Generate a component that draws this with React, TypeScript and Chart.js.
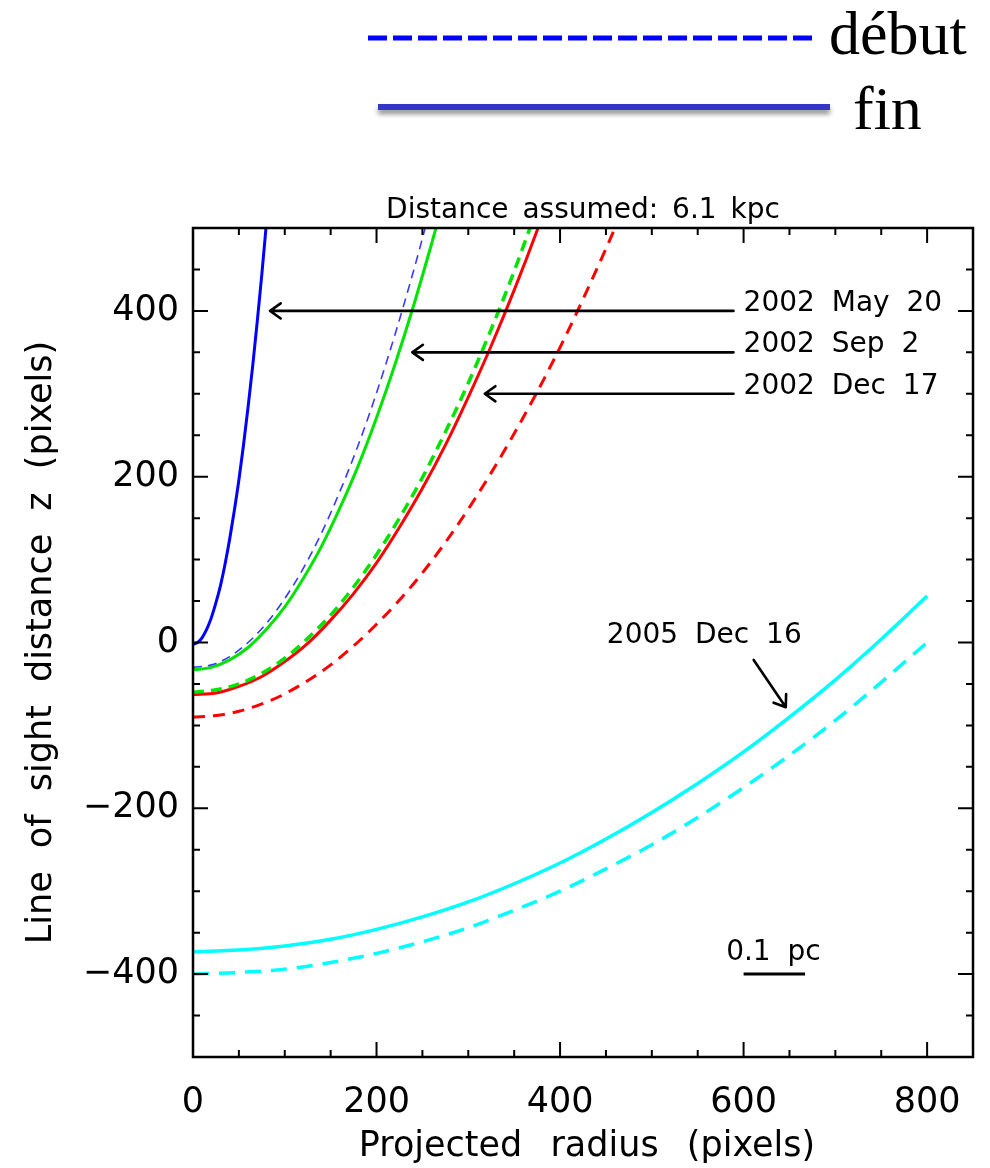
import React, { useEffect, useRef } from 'react';
import { Chart, registerables } from 'chart.js';

Chart.register(...registerables);

// ---- axes ----
const X_MIN = 0;
const X_MAX = 850;
const Y_MIN = -500;
const Y_MAX = 500;
const xTickValues = [0, 200, 400, 600, 800];
const yTickValues = [-400, -200, 0, 200, 400];
const MINOR_STEP = 50;

const plotTitle = 'Distance assumed: 6.1 kpc';
const xTitle = 'Projected radius (pixels)';
const yTitle = 'Line of sight distance z (pixels)';

// ---- 2002 May 20 ----
const rMayFin = [0, 5, 10, 15, 20, 25, 30, 35, 40, 45, 50, 55, 60, 65, 70, 75, 80];
const zMayFin = [-2, 0, 6, 16, 30, 48, 69, 95, 125, 159, 196, 238, 284, 333, 387, 444, 506];
const rMayDebut = [0, 20, 40, 60, 80, 100, 120, 140, 160, 180, 200, 220, 240, 255];
const zMayDebut = [-30, -27, -17, 0, 23, 53, 89, 132, 182, 238, 301, 371, 447, 508];

// ---- 2002 Sep 2 ----
const rSepFin = [0, 20, 40, 60, 80, 100, 120, 140, 160, 180, 200, 220, 240, 260, 270];
const zSepFin = [-33, -30, -21, -6, 16, 43, 77, 116, 162, 213, 271, 335, 405, 481, 521];
const rSepDebut = [0, 25, 50, 75, 100, 125, 150, 175, 200, 225, 250, 275, 300, 325, 350, 375];
const zSepDebut = [-60, -57, -50, -37, -19, 5, 33, 67, 106, 150, 199, 254, 313, 378, 448, 524];

// ---- 2002 Dec 17 ----
const rDecFin = [0, 25, 50, 75, 100, 125, 150, 175, 200, 225, 250, 275, 300, 325, 350, 375, 385];
const zDecFin = [-63, -61, -53, -41, -23, -1, 27, 59, 96, 139, 186, 238, 296, 358, 425, 497, 528];
const rDecDebut = [0, 25, 50, 75, 100, 150, 200, 250, 300, 350, 400, 450, 470];
const zDecDebut = [-90, -88, -83, -74, -62, -27, 22, 84, 161, 252, 356, 475, 526];

// ---- 2005 Dec 16 ----
const r2005Fin = [0, 50, 100, 150, 200, 250, 300, 350, 400, 450, 500, 550, 600, 650, 700, 750, 800];
const z2005Fin = [-373, -371, -366, -358, -346, -331, -313, -291, -266, -237, -205, -170, -132, -90, -45, 4, 56];
const r2005Debut = [0, 50, 100, 150, 200, 250, 300, 350, 400, 450, 500, 550, 600, 650, 700, 750, 800];
const z2005Debut = [-400, -398, -394, -386, -375, -361, -344, -323, -300, -273, -244, -211, -175, -136, -94, -48, 0];

// ---- annotations (data coordinates) ----
const annotationLabels = ['2002 May 20', '2002 Sep 2', '2002 Dec 17', '2005 Dec 16'];
const annotationTextR = [600, 600, 600, 451];
const annotationTextZ = [400, 350, 300, -1];
const arrowFromR = [589, 589, 589, 611];
const arrowFromZ = [400, 350, 300, -21];
const arrowToR = [84, 239, 318, 646];
const arrowToZ = [400, 350, 300, -78];

const scaleBarLabel = '0.1 pc';
const scaleBarTextR = [581];
const scaleBarTextZ = [-383];
const scaleBarR = [600, 667];
const scaleBarZ = [-400, -400];

const legendLabels = ['début', 'fin'];

const BLUE = '#0000ff';
const GREEN = '#00e400';
const RED = '#ff0000';
const CYAN = '#00ffff';

const pts = (rs: number[], zs: number[]) => rs.map((r, i) => ({ x: r, y: zs[i] }));

const FONT = "'DejaVu Sans', sans-serif";

const decorPlugin = {
  id: 'decor',
  afterDatasetsDraw(chart: any) {
    const { ctx, chartArea } = chart;
    const xs = chart.scales.x;
    const ys = chart.scales.y;
    const { left, right, top, bottom } = chartArea;
    ctx.save();

    // frame
    ctx.strokeStyle = '#000';
    ctx.lineWidth = 2.5;
    ctx.strokeRect(left, top, right - left, bottom - top);

    // ticks
    ctx.lineWidth = 2;
    ctx.beginPath();
    for (let v = X_MIN; v <= X_MAX; v += MINOR_STEP) {
      const px = xs.getPixelForValue(v);
      const len = xTickValues.includes(v) ? 15 : 7;
      ctx.moveTo(px, bottom);
      ctx.lineTo(px, bottom - len);
      ctx.moveTo(px, top);
      ctx.lineTo(px, top + len);
    }
    for (let v = Y_MIN; v <= Y_MAX; v += MINOR_STEP) {
      const py = ys.getPixelForValue(v);
      const len = yTickValues.includes(v) ? 15 : 7;
      ctx.moveTo(left, py);
      ctx.lineTo(left + len, py);
      ctx.moveTo(right, py);
      ctx.lineTo(right - len, py);
    }
    ctx.stroke();

    // arrows
    ctx.lineWidth = 2.6;
    ctx.strokeStyle = '#000';
    ctx.lineCap = 'round';
    ctx.lineJoin = 'round';
    for (let i = 0; i < arrowFromR.length; i++) {
      const x0 = xs.getPixelForValue(arrowFromR[i]);
      const y0 = ys.getPixelForValue(arrowFromZ[i]);
      const x1 = xs.getPixelForValue(arrowToR[i]);
      const y1 = ys.getPixelForValue(arrowToZ[i]);
      const ang = Math.atan2(y1 - y0, x1 - x0);
      const hl = 13;
      const hw = 0.62;
      ctx.beginPath();
      ctx.moveTo(x0, y0);
      ctx.lineTo(x1, y1);
      ctx.moveTo(x1 - hl * Math.cos(ang - hw), y1 - hl * Math.sin(ang - hw));
      ctx.lineTo(x1, y1);
      ctx.lineTo(x1 - hl * Math.cos(ang + hw), y1 - hl * Math.sin(ang + hw));
      ctx.stroke();
    }
    ctx.lineCap = 'butt';

    // annotation text
    ctx.fillStyle = '#000';
    ctx.font = `28px ${FONT}`;
    (ctx as any).wordSpacing = '8px';
    ctx.textAlign = 'left';
    ctx.textBaseline = 'alphabetic';
    for (let i = 0; i < annotationLabels.length; i++) {
      ctx.fillText(
        annotationLabels[i],
        xs.getPixelForValue(annotationTextR[i]),
        ys.getPixelForValue(annotationTextZ[i])
      );
    }

    // scale bar
    ctx.fillText(scaleBarLabel, xs.getPixelForValue(scaleBarTextR[0]), ys.getPixelForValue(scaleBarTextZ[0]));
    ctx.lineWidth = 3;
    ctx.beginPath();
    ctx.moveTo(xs.getPixelForValue(scaleBarR[0]), ys.getPixelForValue(scaleBarZ[0]));
    ctx.lineTo(xs.getPixelForValue(scaleBarR[1]), ys.getPixelForValue(scaleBarZ[1]));
    ctx.stroke();

    // plot title
    (ctx as any).wordSpacing = '5px';
    ctx.textAlign = 'center';
    ctx.fillText(plotTitle, (left + right) / 2, top - 10);

    // axis titles
    ctx.font = `35px ${FONT}`;
    (ctx as any).wordSpacing = '17px';
    ctx.textAlign = 'center';
    ctx.textBaseline = 'alphabetic';
    ctx.fillText(xTitle, (left + right) / 2 + 4, 1156);
    (ctx as any).wordSpacing = '12px';
    ctx.save();
    ctx.translate(51, (top + bottom) / 2);
    ctx.rotate(-Math.PI / 2);
    ctx.fillText(yTitle, 0, 0);
    ctx.restore();
    (ctx as any).wordSpacing = '0px';

    // legend at top
    ctx.setLineDash([19, 6]);
    ctx.strokeStyle = BLUE;
    ctx.lineWidth = 5;
    ctx.beginPath();
    ctx.moveTo(368, 38);
    ctx.lineTo(812, 38);
    ctx.stroke();
    ctx.setLineDash([]);
    ctx.save();
    ctx.shadowColor = 'rgba(0,0,0,0.45)';
    ctx.shadowBlur = 5;
    ctx.shadowOffsetY = 4;
    ctx.strokeStyle = '#3636c6';
    ctx.lineWidth = 6;
    ctx.beginPath();
    ctx.moveTo(378, 107);
    ctx.lineTo(830, 107);
    ctx.stroke();
    ctx.restore();
    ctx.fillStyle = '#000';
    ctx.font = "62px 'Liberation Serif', serif";
    ctx.textAlign = 'left';
    ctx.fillText(legendLabels[0], 829, 54);
    ctx.fillText(legendLabels[1], 853, 129);

    ctx.restore();
  },
};

export default function App() {
  const ref = useRef<HTMLCanvasElement | null>(null);

  useEffect(() => {
    if (!ref.current) return;
    const solid = (label: string, data: any, color: string, w: number) => ({
      label,
      data,
      borderColor: color,
      backgroundColor: color,
      borderWidth: w,
      pointRadius: 0,
      fill: false,
      cubicInterpolationMode: 'monotone',
      clip: 0,
    });
    const dashed = (label: string, data: any, color: string, w: number, dash: number[]) => ({
      ...solid(label, data, color, w),
      borderDash: dash,
    });
    const chart = new Chart(ref.current, {
      type: 'line',
      data: {
        datasets: [
          solid('2002 May 20 fin', pts(rMayFin, zMayFin), BLUE, 3),
          dashed('2002 May 20 début', pts(rMayDebut, zMayDebut), '#3a3aff', 1.6, [9, 6]),
          solid('2002 Sep 2 fin', pts(rSepFin, zSepFin), GREEN, 3),
          dashed('2002 Sep 2 début', pts(rSepDebut, zSepDebut), GREEN, 3.5, [11, 7]),
          solid('2002 Dec 17 fin', pts(rDecFin, zDecFin), RED, 3),
          dashed('2002 Dec 17 début', pts(rDecDebut, zDecDebut), RED, 3, [12, 8]),
          solid('2005 Dec 16 fin', pts(r2005Fin, z2005Fin), CYAN, 3.5),
          dashed('2005 Dec 16 début', pts(r2005Debut, z2005Debut), CYAN, 3.5, [16, 10]),
        ] as any,
      },
      options: {
        animation: false,
        responsive: false,
        devicePixelRatio: 1,
        layout: { padding: { top: 228, right: 17, left: 0, bottom: 0 } },
        plugins: { legend: { display: false }, tooltip: { enabled: false }, title: { display: false } },
        scales: {
          x: {
            type: 'linear',
            min: X_MIN,
            max: X_MAX,
            grid: { display: false, drawTicks: false },
            border: { display: false },
            ticks: {
              font: { family: 'DejaVu Sans', size: 35 },
              color: '#000',
              padding: 25,
              maxRotation: 0,
              autoSkip: false,
            },
            afterBuildTicks: (s: any) => {
              s.ticks = xTickValues.map((v) => ({ value: v }));
            },
            afterFit: (s: any) => {
              s.height = 111;
            },
          },
          y: {
            type: 'linear',
            min: Y_MIN,
            max: Y_MAX,
            grid: { display: false, drawTicks: false },
            border: { display: false },
            ticks: {
              font: { family: 'DejaVu Sans', size: 35 },
              color: '#000',
              padding: 14,
              autoSkip: false,
              callback: (v: any) => (Number(v) < 0 ? '\u2212' + Math.abs(Number(v)) : String(v)),
            },
            afterBuildTicks: (s: any) => {
              s.ticks = yTickValues.map((v) => ({ value: v }));
            },
            afterFit: (s: any) => {
              s.width = 193;
            },
          },
        },
      } as any,
      plugins: [decorPlugin],
    });
    return () => chart.destroy();
  }, []);

  return (
    <div style={{ position: 'absolute', left: 0, top: 0, width: 990, height: 1168, background: '#fff' }}>
      <canvas ref={ref} width={990} height={1168} />
    </div>
  );
}
